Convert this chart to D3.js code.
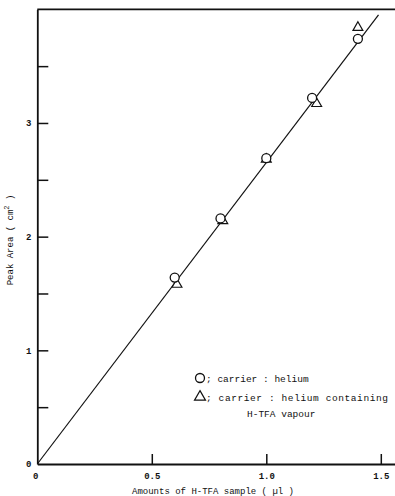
<!DOCTYPE html>
<html>
<head>
<meta charset="utf-8">
<script src="https://cdn.jsdelivr.net/npm/d3@7"></script>
<style>
  html, body { margin: 0; padding: 0; background: #fff; }
  svg { display: block; }
  text { font-family: "Liberation Mono", "DejaVu Sans Mono", monospace; fill: #111; }
</style>
</head>
<body>
<svg id="chart" width="395" height="496"></svg>
<script>
// Peak area against injected amount of H-TFA sample
const circleX = [0.60, 0.80, 1.00, 1.20, 1.40];
const circleY = [1.64, 2.16, 2.69, 3.22, 3.74];
const triangleX = [0.61, 0.81, 1.00, 1.22, 1.40];
const triangleY = [1.58, 2.14, 2.68, 3.17, 3.84];
const fitX = [0, 1.49];
const fitY = [0, 3.95];

const xTicks = [0, 0.5, 1.0, 1.5];
const xTickLabels = ["0", "0.5", "1.0", "1.5"];
const yTicks = [0, 0.5, 1, 1.5, 2, 2.5, 3, 3.5];
const yTickLabels = ["0", "", "1", "", "2", "", "3", ""];

const legendLabels = ["; carrier : helium", "; carrier : helium containing", "H-TFA vapour"];

const svg = d3.select("#chart");
const plotLeft = 37.3, plotRight = 395, plotTop = 9.3, plotBottom = 464;

const x = d3.scaleLinear().domain([0, 1.562]).range([plotLeft, plotRight]);
const y = d3.scaleLinear().domain([0, 4.0]).range([plotBottom, plotTop]);

// frame top line
svg.append("line")
  .attr("x1", plotLeft).attr("x2", plotRight)
  .attr("y1", plotTop).attr("y2", plotTop)
  .attr("stroke", "#111").attr("stroke-width", 1.8);

// x axis (inward ticks)
const xAxis = d3.axisBottom(x)
  .tickValues(xTicks)
  .tickFormat((d, i) => xTickLabels[i])
  .tickSizeInner(-10).tickSizeOuter(0).tickPadding(9);
const gx = svg.append("g").attr("transform", `translate(0,${plotBottom})`).call(xAxis);
gx.select(".domain").attr("stroke", "#111").attr("stroke-width", 1.8);
gx.selectAll(".tick line").attr("stroke", "#111").attr("stroke-width", 1.5);
gx.selectAll(".tick text").attr("font-size", 9).attr("font-weight", "bold")
  .attr("font-family", "Liberation Mono, monospace").attr("fill", "#111");
gx.selectAll(".tick").filter(d => d === 0).select("line").remove();
gx.selectAll(".tick").filter(d => d === 0).select("text").attr("dx", -2);

// y axis (inward ticks)
const yAxis = d3.axisLeft(y)
  .tickValues(yTicks)
  .tickFormat((d, i) => yTickLabels[i])
  .tickSizeInner(-11).tickSizeOuter(0).tickPadding(6);
const gy = svg.append("g").attr("transform", `translate(${plotLeft},0)`).call(yAxis);
gy.select(".domain").attr("stroke", "#111").attr("stroke-width", 1.8);
gy.selectAll(".tick line").attr("stroke", "#111").attr("stroke-width", 1.5);
gy.selectAll(".tick text").attr("font-size", 9).attr("font-weight", "bold")
  .attr("font-family", "Liberation Mono, monospace").attr("fill", "#111");
gy.selectAll(".tick").filter(d => d === 0).select("line").remove();

// axis titles
svg.append("text")
  .attr("x", 213).attr("y", 494)
  .attr("text-anchor", "middle")
  .attr("font-size", 9)
  .text("Amounts of H-TFA sample ( \u00b5l )");

const yt = svg.append("text")
  .attr("transform", "translate(13,240) rotate(-90)")
  .attr("text-anchor", "middle")
  .attr("font-size", 9);
yt.append("tspan").text("Peak Area ( cm");
yt.append("tspan").attr("dy", -4).attr("font-size", 7).text("2");
yt.append("tspan").attr("dy", 4).text(" )");

// fitted straight line
svg.append("line")
  .attr("x1", x(fitX[0])).attr("y1", y(fitY[0]))
  .attr("x2", x(fitX[1])).attr("y2", y(fitY[1]))
  .attr("stroke", "#111").attr("stroke-width", 1.2);

// triangle markers
const tri = d3.symbol().type(d3.symbolTriangle).size(42);
svg.append("g").selectAll("path")
  .data(triangleX.map((v, i) => [v, triangleY[i]]))
  .join("path")
  .attr("d", tri)
  .attr("transform", d => `translate(${x(d[0])},${y(d[1])})`)
  .attr("fill", "#fff").attr("stroke", "#111").attr("stroke-width", 1.2);

// circle markers
svg.append("g").selectAll("circle")
  .data(circleX.map((v, i) => [v, circleY[i]]))
  .join("circle")
  .attr("cx", d => x(d[0])).attr("cy", d => y(d[1]))
  .attr("r", 4.5)
  .attr("fill", "#fff").attr("stroke", "#111").attr("stroke-width", 1.3);

// legend
const lg = svg.append("g");
lg.append("circle").attr("cx", 200).attr("cy", 378).attr("r", 4.5)
  .attr("fill", "#fff").attr("stroke", "#111").attr("stroke-width", 1.3);
lg.append("path").attr("d", d3.symbol().type(d3.symbolTriangle).size(52)())
  .attr("transform", "translate(200,397)")
  .attr("fill", "#fff").attr("stroke", "#111").attr("stroke-width", 1.2);
lg.append("text").attr("x", 206).attr("y", 382).attr("font-size", 9.5).text(legendLabels[0]);
lg.append("text").attr("x", 206).attr("y", 401).attr("font-size", 9.5)
  .attr("textLength", 182).text(legendLabels[1]);
lg.append("text").attr("x", 247).attr("y", 417).attr("font-size", 9.5).text(legendLabels[2]);
</script>
</body>
</html>
